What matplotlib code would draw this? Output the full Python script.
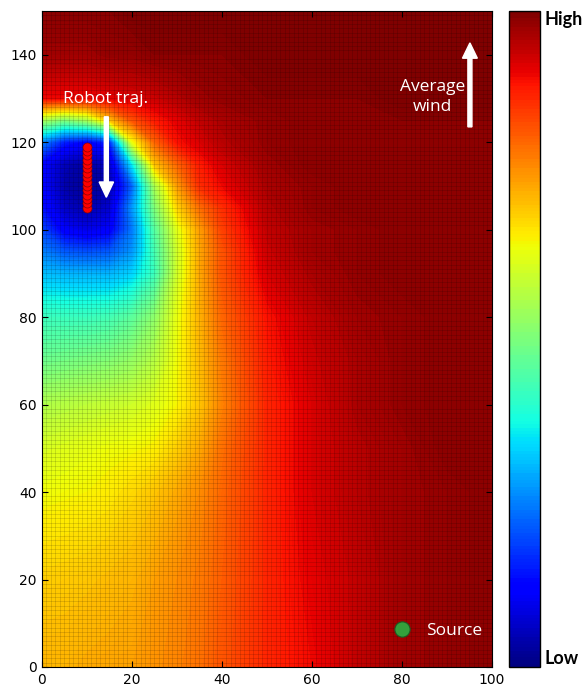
import numpy as np
import matplotlib.pyplot as plt
from matplotlib.ticker import MultipleLocator

# sample points of the map (denser round the robot)
x_nodes = [0, 5, 10, 15, 20, 25, 30, 35, 40, 50, 60, 70, 80, 90, 100]
y_nodes = [0, 20, 40, 50, 60, 70, 80, 90, 95, 100, 105, 110, 115, 120, 125, 130, 140, 150]

# level, 0 = Low, 1 = High, one row per y node
level = [
    [0.72, 0.72, 0.73, 0.735, 0.74, 0.755, 0.77, 0.79, 0.82, 0.87, 0.90, 0.94, 0.97, 0.98, 0.99],  # 0
    [0.69, 0.695, 0.70, 0.71, 0.72, 0.74, 0.76, 0.78, 0.81, 0.87, 0.91, 0.94, 0.97, 0.98, 0.99],  # 20
    [0.64, 0.645, 0.65, 0.66, 0.68, 0.70, 0.73, 0.76, 0.80, 0.87, 0.92, 0.95, 0.97, 0.98, 0.99],  # 40
    [0.61, 0.62, 0.63, 0.64, 0.645, 0.655, 0.69, 0.73, 0.79, 0.87, 0.92, 0.95, 0.97, 0.99, 0.99],  # 50
    [0.56, 0.57, 0.58, 0.59, 0.60, 0.62, 0.65, 0.70, 0.77, 0.87, 0.92, 0.96, 0.98, 0.99, 0.99],  # 60
    [0.48, 0.49, 0.50, 0.51, 0.53, 0.57, 0.64, 0.71, 0.78, 0.88, 0.93, 0.96, 0.98, 0.99, 0.99],  # 70
    [0.42, 0.42, 0.42, 0.43, 0.46, 0.52, 0.63, 0.72, 0.80, 0.89, 0.94, 0.97, 0.98, 0.99, 0.99],  # 80
    [0.31, 0.30, 0.30, 0.30, 0.33, 0.42, 0.60, 0.73, 0.82, 0.92, 0.96, 0.98, 0.99, 0.99, 0.99],  # 90
    [0.25, 0.21, 0.20, 0.21, 0.27, 0.43, 0.60, 0.73, 0.82, 0.93, 0.97, 0.98, 0.99, 0.99, 0.99],  # 95
    [0.19, 0.11, 0.09, 0.11, 0.24, 0.45, 0.62, 0.74, 0.84, 0.94, 0.97, 0.98, 0.99, 0.99, 0.99],  # 100
    [0.14, 0.06, 0.04, 0.07, 0.27, 0.50, 0.68, 0.79, 0.86, 0.95, 0.98, 0.99, 0.99, 0.99, 0.99],  # 105
    [0.12, 0.04, 0.02, 0.04, 0.22, 0.55, 0.74, 0.86, 0.90, 0.96, 0.98, 0.99, 0.99, 0.99, 0.99],  # 110
    [0.12, 0.05, 0.03, 0.06, 0.35, 0.70, 0.80, 0.88, 0.92, 0.97, 0.99, 0.99, 0.99, 0.99, 0.99],  # 115
    [0.25, 0.15, 0.12, 0.16, 0.63, 0.80, 0.89, 0.92, 0.95, 0.98, 0.99, 0.99, 0.99, 0.99, 0.99],  # 120
    [0.55, 0.50, 0.55, 0.70, 0.82, 0.88, 0.91, 0.94, 0.96, 0.98, 0.99, 0.99, 0.99, 0.99, 0.99],  # 125
    [0.90, 0.90, 0.90, 0.91, 0.92, 0.93, 0.95, 0.97, 0.98, 0.99, 0.99, 0.99, 1.00, 1.00, 1.00],  # 130
    [0.97, 0.97, 0.97, 0.98, 0.98, 0.99, 0.99, 0.99, 0.99, 1.00, 1.00, 1.00, 1.00, 1.00, 1.00],  # 140
    [0.99, 0.99, 0.99, 0.99, 1.00, 1.00, 1.00, 1.00, 1.00, 1.00, 1.00, 1.00, 1.00, 1.00, 1.00],  # 150
]

# robot positions along its path
robot_x = [10] * 15
robot_y = [105, 106, 107, 108, 109, 110, 111, 112, 113, 114, 115, 116, 117, 118, 119]

source_x = 80
source_y = 8.8

fig = plt.figure(figsize=(5.84, 6.86), dpi=100)
ax = fig.add_axes([0.0719, 0.0277, 0.7705, 0.9563])
cax = fig.add_axes([0.8716, 0.0277, 0.0531, 0.9563])

X, Y = np.meshgrid(x_nodes, y_nodes)
mesh = ax.contourf(X, Y, np.array(level), levels=np.linspace(0, 1, 201), cmap='jet',
                   vmin=0, vmax=1, antialiased=False)

# fine cell lines of the map
ax.xaxis.set_minor_locator(MultipleLocator(1))
ax.yaxis.set_minor_locator(MultipleLocator(1))
ax.grid(which='minor', color='k', alpha=0.15, lw=0.6)
ax.tick_params(which='minor', length=0)

ax.plot(robot_x, robot_y, 'o', color='red', ms=6.5, mec='#8b0000', mew=0.5, zorder=4)
ax.plot(source_x, source_y, 'o', color='#34a03c', ms=11, mec='#1d5a22', mew=0.8, zorder=4)

ax.arrow(14.3, 125.8, 0, -18.4, width=0.9, head_width=3.2, head_length=3.5,
         length_includes_head=True, color='white', zorder=5)
ax.arrow(95.1, 123.5, 0, 19.2, width=0.9, head_width=3.3, head_length=3.5,
         length_includes_head=True, color='white', zorder=5)

tfont = dict(family='Open Sans', color='white', fontsize=12.5)
ax.text(14.1, 129.0, 'Robot traj.', ha='center', va='baseline', **tfont)
ax.text(86.8, 130.4, 'Average\nwind', ha='center', va='center', multialignment='center',
        linespacing=1.35, **tfont)
ax.text(85.3, 7.3, 'Source', ha='left', va='baseline', **tfont)

ax.set_xlim(0, 100)
ax.set_ylim(0, 150)
ax.set_xticks([0, 20, 40, 60, 80, 100])
ax.set_yticks([0, 20, 40, 60, 80, 100, 120, 140])
ax.tick_params(which='major', direction='in', length=4, top=True, right=True,
               labelsize=10, pad=4)

cb = fig.colorbar(mesh, cax=cax, ticks=[])
cb.outline.set_linewidth(1)
cax.text(1.15, 1.0, 'High', transform=cax.transAxes, ha='left', va='top',
         family='Lato', weight='bold', fontsize=13)
cax.text(1.15, 0.0, 'Low', transform=cax.transAxes, ha='left', va='bottom',
         family='Lato', weight='bold', fontsize=13)

fig.savefig('out.png', dpi=100)
